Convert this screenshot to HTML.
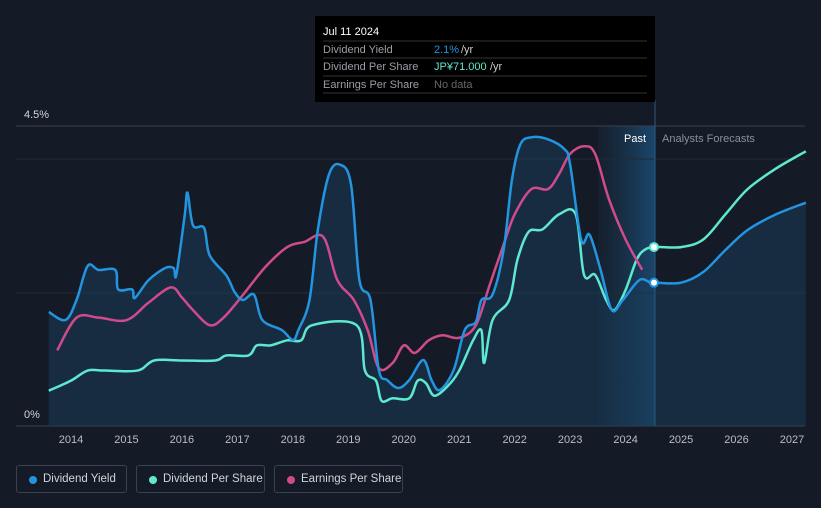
<!DOCTYPE html>
<html><head><meta charset="utf-8"><style>
body{margin:0;background:#151b26;font-family:"Liberation Sans",sans-serif;}
#wrap{position:relative;width:821px;height:508px;overflow:hidden;background:#151b26;}
.leg{position:absolute;top:465px;height:28px;border:1px solid #3a4150;border-radius:3px;color:#d0d4da;font-size:11.5px;line-height:27px;box-sizing:border-box;padding-left:26px;white-space:nowrap;overflow:hidden}
.leg i{position:absolute;left:12px;top:10px;width:8px;height:8px;border-radius:50%}
</style></head><body>
<div id="wrap">
<svg id="chart" width="821" height="508" style="position:absolute;left:0;top:0"></svg>
<div class="leg" style="left:16px;width:111px"><i style="background:#2394e0"></i>Dividend Yield</div>
<div class="leg" style="left:136px;width:129px"><i style="background:#5ee8cf"></i>Dividend Per Share</div>
<div class="leg" style="left:274px;width:129px"><i style="background:#d04a8c"></i>Earnings Per Share</div>
</div>
<script>
const years=[2014,2015,2016,2017,2018,2019,2020,2021,2022,2023,2024,2025,2026,2027];
const yieldT=[2013.6,2013.9,2014.1,2014.3,2014.5,2014.8,2014.85,2015.1,2015.15,2015.4,2015.7,2015.85,2015.9,2016.05,2016.1,2016.2,2016.4,2016.5,2016.8,2016.95,2017.1,2017.3,2017.45,2017.8,2018.0,2018.1,2018.3,2018.45,2018.65,2018.85,2019.05,2019.2,2019.4,2019.55,2019.7,2019.9,2020.1,2020.35,2020.5,2020.65,2020.9,2021.1,2021.3,2021.4,2021.6,2021.8,2021.95,2022.1,2022.3,2022.6,2022.9,2023.0,2023.2,2023.35,2023.55,2023.75,2023.95,2024.25,2024.45,2024.55,2025.0,2025.4,2025.8,2026.2,2026.7,2027.25];
const yieldV=[1.71,1.59,1.89,2.4,2.34,2.34,2.05,2.05,1.92,2.19,2.37,2.37,2.27,3.16,3.5,3.01,2.97,2.56,2.26,2.01,1.89,1.97,1.59,1.44,1.29,1.44,1.89,2.94,3.77,3.92,3.62,2.19,1.89,0.84,0.69,0.57,0.69,0.99,0.69,0.54,0.84,1.44,1.56,1.89,1.97,2.64,3.69,4.22,4.33,4.3,4.15,3.92,2.79,2.87,2.34,1.74,1.89,2.19,2.15,2.15,2.15,2.31,2.64,2.94,3.17,3.35];
const dpsT=[2013.6,2014.0,2014.3,2014.6,2015.2,2015.5,2016.0,2016.6,2016.8,2017.2,2017.35,2017.6,2017.9,2018.15,2018.35,2019.15,2019.3,2019.5,2019.6,2019.8,2020.1,2020.25,2020.4,2020.55,2020.8,2021.0,2021.25,2021.4,2021.45,2021.6,2021.9,2022.05,2022.25,2022.5,2022.8,2023.1,2023.25,2023.45,2023.65,2023.8,2024.0,2024.2,2024.35,2024.55,2025.0,2025.4,2025.8,2026.2,2026.7,2027.25];
const dpsV=[14,18,22,22,22,26,26,26,28,28,32,32,34,34,40,40,22,18,10,11,11,18,17,12,16,22,34,38,25,42,50,66,77,78,84,84,60,60,50,46,54,66,70,71,71,74,84,94,102,109];
const epsT=[2013.75,2014.1,2014.5,2015.0,2015.4,2015.8,2016.0,2016.2,2016.5,2016.75,2017.1,2017.5,2017.9,2018.2,2018.55,2018.8,2019.1,2019.35,2019.55,2019.8,2020.0,2020.2,2020.45,2020.7,2021.0,2021.3,2021.55,2021.8,2022.0,2022.3,2022.6,2022.8,2023.0,2023.25,2023.45,2023.7,2024.0,2024.3];
const epsV=[30,43,43,42,49,55,51,46,40,43,52,63,71,73,75,58,50,38,23,25,32,29,34,36,35,40,56,72,84,94,94,100,108,111,108,90,74,62];
const yTicks=["0%","4.5%"];
const NS="http://www.w3.org/2000/svg",svg=document.getElementById('chart');
const X0=48,X1=805,Y0=426,Y1=126;
const x=t=>71+(t-2014)*55.46;
const yY=v=>Y0-v/4.5*(Y0-Y1);
const yD=v=>Y0-v*2.52;
const yE=v=>Y0-v*2.52;
function el(tag,a,p){const e=document.createElementNS(NS,tag);for(const k in a)e.setAttribute(k,a[k]);(p||svg).appendChild(e);return e;}
function path(ts,vs,sy){const P=ts.map((t,i)=>[x(t),sy(vs[i])]);let d=`M${P[0][0]},${P[0][1]}`;
for(let i=0;i<P.length-1;i++){const p0=P[i-1]||P[i],p1=P[i],p2=P[i+1],p3=P[i+2]||p2;
d+=`C${p1[0]+(p2[0]-p0[0])/6},${p1[1]+(p2[1]-p0[1])/6} ${p2[0]-(p3[0]-p1[0])/6},${p2[1]-(p3[1]-p1[1])/6} ${p2[0]},${p2[1]}`;}return d;}
const defs=el('defs',{});
const g=el('linearGradient',{id:'sh',x1:0,x2:1,y1:0,y2:0},defs);
el('stop',{offset:0,'stop-color':'#1c4a70','stop-opacity':0.1},g);el('stop',{offset:1,'stop-color':'#1c5a8a','stop-opacity':0.7},g);
el('rect',{x:598,y:126,width:57,height:300,fill:'url(#sh)'});
const gl=el('line',{x1:16,x2:805,y1:126,y2:126,stroke:'#3a404c'});
[159,293].forEach(yy=>{const l=el('line',{x1:16,x2:805,y1:yy,y2:yy,stroke:'#232a36'});});
const ax=el('line',{x1:16,x2:805,y1:Y0,y2:Y0,stroke:'#3a404c'});
const t1=el('text',{x:24,y:118,fill:'#d0d4da','font-size':11});t1.textContent=yTicks[1];
const t0=el('text',{x:24,y:418,fill:'#d0d4da','font-size':11});t0.textContent=yTicks[0];
years.forEach(yv=>{const t=el('text',{x:x(yv),y:443,fill:'#b8bcc4','font-size':11,'text-anchor':'middle'});t.textContent=yv;});
const pd=path(yieldT,yieldV,yY);
const area=el('path',{d:pd+`L${x(yieldT[yieldT.length-1])},${Y0}L${x(yieldT[0])},${Y0}Z`,fill:'#1a3a58','fill-opacity':0.55});
const dl=el('path',{d:path(dpsT,dpsV,yD),fill:'none',stroke:'#5ee8cf','stroke-width':2.5});
const elp=el('path',{d:path(epsT,epsV,yE),fill:'none',stroke:'#d04a8c','stroke-width':2.5});
const yl=el('path',{d:pd,fill:'none',stroke:'#2394e0','stroke-width':2.5});
const vl=el('line',{x1:655,x2:655,y1:100,y2:426,stroke:'#2a5a86'});
const d1=el('circle',{cx:654,cy:yD(71),r:4,fill:'#fff',stroke:'#5ee8cf','stroke-width':2});
const d2=el('circle',{cx:654,cy:yY(2.15),r:4,fill:'#fff',stroke:'#2394e0','stroke-width':2});
const pt=el('text',{x:646,y:142,fill:'#fff','font-size':11,'text-anchor':'end'});pt.textContent='Past';
const ft=el('text',{x:662,y:142,fill:'#8a9099','font-size':11});ft.textContent='Analysts Forecasts';
const tg=el('g',{});
el('rect',{x:315,y:16,width:340,height:86,fill:'#000'},tg);
[41,58,76,93].forEach(yy=>el('line',{x1:323,x2:647,y1:yy,y2:yy,stroke:'#333'},tg));
function tx(s,xx,yy,c){const t=el('text',{x:xx,y:yy,fill:c,'font-size':11},tg);t.textContent=s;return t;}
tx('Jul 11 2024',323,35,'#fff');
tx('Dividend Yield',323,53,'#9a9ea6');tx('2.1%',434,53,'#2394e0');tx('/yr',461,53,'#ccc');
tx('Dividend Per Share',323,70,'#9a9ea6');tx('JP¥71.000',434,70,'#5ee8cf');tx('/yr',490,70,'#ccc');
tx('Earnings Per Share',323,88,'#9a9ea6');tx('No data',434,88,'#666');
</script>
</body></html>
